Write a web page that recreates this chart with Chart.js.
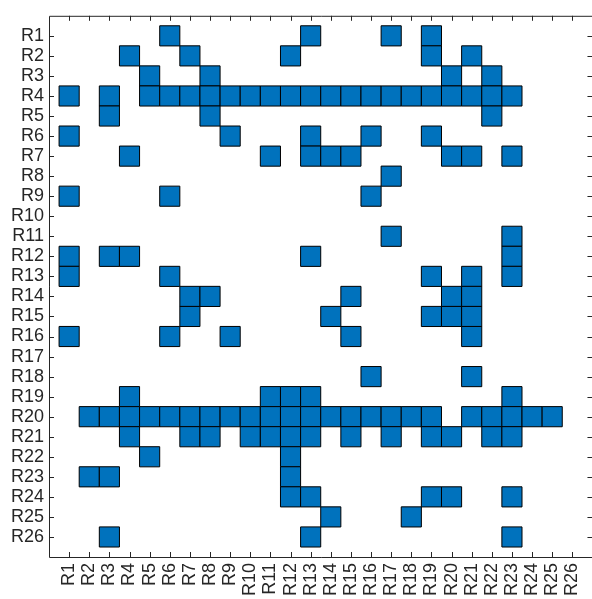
<!DOCTYPE html>
<html>
<head>
<meta charset="utf-8">
<script src="https://cdn.jsdelivr.net/npm/chart.js@4.4.1/dist/chart.umd.min.js"></script>
<style>
    html, body { margin: 0; padding: 0; background: #fff; overflow: hidden; }
</style>
</head>
<body>
<canvas id="graficoMatriz" width="600" height="599"></canvas>
<script>
// Etiquetas de filas y columnas (R1..R26)
const etiquetas = ['R1', 'R2', 'R3', 'R4', 'R5', 'R6', 'R7', 'R8', 'R9', 'R10', 'R11', 'R12', 'R13',
    'R14', 'R15', 'R16', 'R17', 'R18', 'R19', 'R20', 'R21', 'R22', 'R23', 'R24', 'R25', 'R26'];

// Columnas marcadas en cada fila (numero de columna, empezando en 1)
const conexiones = [
    [6, 13, 17, 19],                                                  // R1
    [4, 7, 12, 19, 21],                                               // R2
    [5, 8, 20, 22],                                                   // R3
    [1, 3, 5, 6, 7, 8, 9, 10, 11, 12, 13, 14, 15, 16, 17, 18, 19, 20, 21, 22, 23], // R4
    [3, 8, 22],                                                       // R5
    [1, 9, 13, 16, 19],                                               // R6
    [4, 11, 13, 14, 15, 20, 21, 23],                                  // R7
    [17],                                                             // R8
    [1, 6, 16],                                                       // R9
    [],                                                               // R10
    [17, 23],                                                         // R11
    [1, 3, 4, 13, 23],                                                // R12
    [1, 6, 19, 21, 23],                                               // R13
    [7, 8, 15, 20, 21],                                               // R14
    [7, 14, 19, 20, 21],                                              // R15
    [1, 6, 9, 15, 21],                                                // R16
    [],                                                               // R17
    [16, 21],                                                         // R18
    [4, 11, 12, 13, 23],                                              // R19
    [2, 3, 4, 5, 6, 7, 8, 9, 10, 11, 12, 13, 14, 15, 16, 17, 18, 19, 21, 22, 23, 24, 25], // R20
    [4, 7, 8, 10, 11, 12, 13, 15, 17, 19, 20, 22, 23],                // R21
    [5, 12],                                                          // R22
    [2, 3, 12],                                                       // R23
    [12, 13, 19, 20, 23],                                             // R24
    [14, 18],                                                         // R25
    [3, 13, 23]                                                       // R26
];

const colorCelda = '#0072BD';
const colorTexto = '#262626';

// Puntos (x = columna, y = fila)
const celdas = conexiones.flatMap((cols, i) => cols.map(c => ({ x: c, y: i + 1 })));

// Marco y marcas de graduacion hacia adentro
const marcoEjes = {
    id: 'marcoEjes',
    afterDatasetsDraw(chart) {
        const { ctx, chartArea: a, scales: { x, y } } = chart;
        const largo = 5;
        ctx.save();
        ctx.strokeStyle = colorTexto;
        ctx.lineWidth = 1;
        ctx.beginPath();
        ctx.rect(a.left + 0.5, a.top + 0.5, a.right - a.left, a.bottom - a.top);
        x.ticks.forEach(t => {
            const px = Math.round(x.getPixelForValue(t.value)) + 0.5;
            ctx.moveTo(px, a.top);
            ctx.lineTo(px, a.top + largo);
            ctx.moveTo(px, a.bottom);
            ctx.lineTo(px, a.bottom - largo);
        });
        y.ticks.forEach(t => {
            const py = Math.round(y.getPixelForValue(t.value)) + 0.5;
            ctx.moveTo(a.left, py);
            ctx.lineTo(a.left + largo, py);
            ctx.moveTo(a.right, py);
            ctx.lineTo(a.right - largo, py);
        });
        ctx.stroke();
        ctx.restore();
    }
};

const ticksFijos = escala => {
    escala.ticks = etiquetas.map((_, i) => ({ value: i + 1 }));
};

new Chart(document.getElementById('graficoMatriz'), {
    type: 'scatter',
    data: {
        datasets: [{
            data: celdas,
            pointStyle: 'rect',
            backgroundColor: colorCelda,
            borderColor: '#000',
            borderWidth: 1,
            // lado del cuadrado = una unidad de la escala x
            pointRadius: ctx => {
                const sx = ctx.chart.scales.x;
                return Math.abs(sx.getPixelForValue(1) - sx.getPixelForValue(0)) / Math.SQRT2;
            }
        }]
    },
    options: {
        responsive: false,
        animation: false,
        events: [],
        layout: { padding: { top: 10, right: 2, left: 0, bottom: 0 } },
        plugins: {
            legend: { display: false },
            tooltip: { enabled: false }
        },
        scales: {
            x: {
                type: 'linear',
                min: 0,
                max: 27,
                afterBuildTicks: ticksFijos,
                afterFit: s => { s.height = 42; },
                grid: { display: false, drawTicks: false },
                border: { display: false },
                ticks: {
                    autoSkip: false,
                    minRotation: 90,
                    maxRotation: 90,
                    padding: 6,
                    color: colorTexto,
                    font: { family: 'Liberation Sans', size: 18 },
                    callback: v => etiquetas[v - 1]
                }
            },
            y: {
                type: 'linear',
                reverse: true,
                min: 0,
                max: 27,
                afterBuildTicks: ticksFijos,
                afterFit: s => { s.width = 49; },
                grid: { display: false, drawTicks: false },
                border: { display: false },
                ticks: {
                    autoSkip: false,
                    padding: 5,
                    color: colorTexto,
                    font: { family: 'Liberation Sans', size: 18 },
                    callback: v => etiquetas[v - 1]
                }
            }
        }
    },
    plugins: [marcoEjes]
});
</script>
</body>
</html>
